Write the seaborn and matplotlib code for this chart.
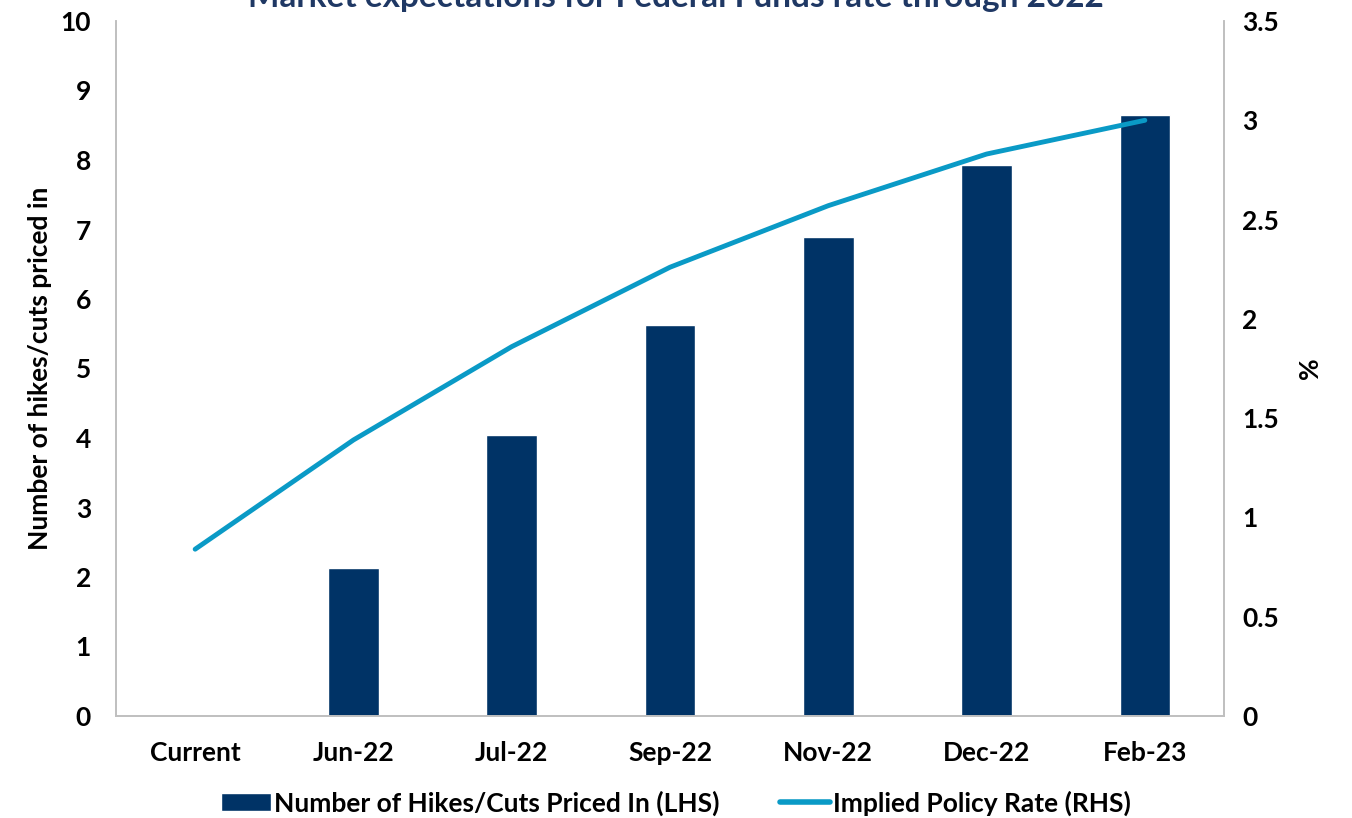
import numpy as np
import pandas as pd
import seaborn as sns
from matplotlib import pyplot as plt
from matplotlib.patches import Patch
from matplotlib.lines import Line2D

# values
dates = ["Current", "Jun-22", "Jul-22", "Sep-22", "Nov-22", "Dec-22", "Feb-23"]
hikes_priced = [0, 2.13, 4.04, 5.63, 6.89, 7.93, 8.65]
policy_rate = [0.84, 1.39, 1.86, 2.26, 2.57, 2.83, 3.0]

BAR_COLOR = "#003366"
LINE_COLOR = "#0a9ac6"
SPINE_COLOR = "#bfbfbf"
FS = 19

sns.set_style("white")
plt.rcParams['font.family'] = ['Lato', 'DejaVu Sans']
plt.rcParams['text.color'] = 'black'
plt.rcParams['axes.labelcolor'] = 'black'
plt.rcParams['xtick.color'] = 'black'
plt.rcParams['ytick.color'] = 'black'

df = pd.DataFrame({"date": dates, "hikes": hikes_priced, "rate": policy_rate})

fig = plt.figure(figsize=(13.52, 8.18), dpi=100)
ax = fig.add_axes([116/1352, 1 - 716/818, (1224-116)/1352, (716-21)/818])

sns.barplot(data=df, x="date", y="hikes", color=BAR_COLOR, width=0.32,
            saturation=1, ax=ax)
ax.set_ylim(0, 10)
ax.set_xlim(-0.5, 6.5)
ax.set_yticks(np.arange(0, 11, 1))
ax.set_xlabel("")
ax.set_ylabel("Number of hikes/cuts priced in", fontsize=FS, fontweight="bold",
              labelpad=6)

ax2 = ax.twinx()
sns.lineplot(data=df, x="date", y="rate", color=LINE_COLOR, linewidth=3.5,
             sort=False, ax=ax2)
ax2.set_ylim(0, 3.5)
ax2.set_yticks([0, 0.5, 1, 1.5, 2, 2.5, 3, 3.5])
ax2.set_yticklabels(["0", "0.5", "1", "1.5", "2", "2.5", "3", "3.5"])
ax2.set_ylabel("%", fontsize=FS, fontweight="bold", labelpad=14)

for a in (ax, ax2):
    a.tick_params(length=0, labelsize=FS, pad=12)
    for lab in a.get_xticklabels() + a.get_yticklabels():
        lab.set_fontweight("bold")
    a.spines["top"].set_visible(False)
    for s in ("left", "right", "bottom"):
        a.spines[s].set_color(SPINE_COLOR)
        a.spines[s].set_linewidth(1.2)
ax.tick_params(axis="x", pad=18)
ax.tick_params(axis="y", pad=18)
ax2.tick_params(axis="y", pad=13)

fig.text(0.5, 1.003, "Market expectations for Federal Funds rate through 2022",
         ha="center", va="center", fontsize=24, fontweight="bold", color="#1f3864")

handles = [Patch(facecolor=BAR_COLOR), Line2D([0], [0], color=LINE_COLOR, linewidth=4)]
fig.legend(handles, ["Number of Hikes/Cuts Priced In (LHS)", "Implied Policy Rate (RHS)"],
           loc="center", bbox_to_anchor=(0.5, 1 - 803/818), ncol=2, frameon=False,
           prop={"weight": "bold", "size": FS}, handlelength=1.9, handletextpad=0.1,
           columnspacing=2.3)

fig.savefig("out.png", dpi=100)
